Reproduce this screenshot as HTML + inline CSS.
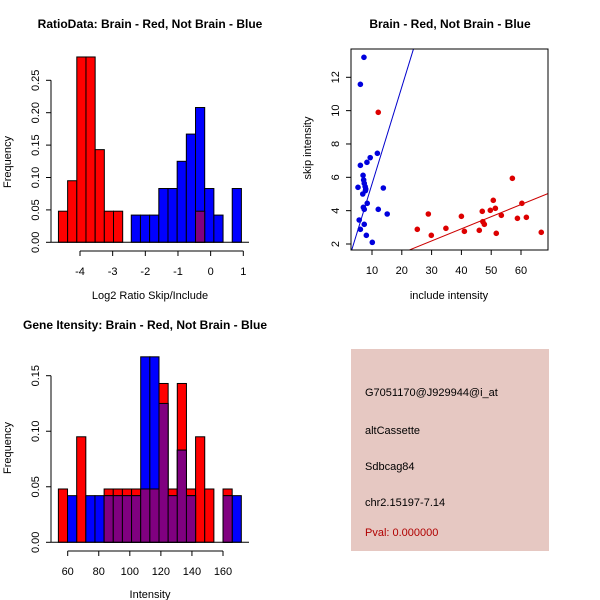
<!DOCTYPE html>
<html><head><meta charset="utf-8"><style>
body{margin:0;background:#fff}
svg{display:block;font-family:"Liberation Sans",sans-serif}
</style></head><body>
<svg id="c" width="600" height="600" xmlns="http://www.w3.org/2000/svg">
<rect width="600" height="600" fill="#fff"/>
<g id="p1"></g>
<g id="p2"></g>
<g id="p3"></g>
<g id="p4">
<rect x="351" y="349" width="198" height="202" fill="#e6c8c2"/>
<text x="365" y="396" font-size="11">G7051170@J929944@i_at</text>
<text x="365" y="434" font-size="11">altCassette</text>
<text x="365" y="470" font-size="11">Sdbcag84</text>
<text x="365" y="506" font-size="11">chr2.15197-7.14</text>
<text x="365" y="536" font-size="11" fill="#b00000">Pval: 0.000000</text>
</g>
</svg>
<script>
// Panel 1 data
const ratioRedStart = -4.66, ratioBlueStart = -2.43, ratioBin = 0.281;
const ratioRed = [0.048,0.095,0.286,0.286,0.143,0.048,0.048];
const ratioBlue = [0.042,0.042,0.042,0.083,0.083,0.125,0.167,0.208,0.083,0.042,0,0.083];
const ratioOverlap = [0,0,0,0,0,0,0,0.048,0,0,0,0];
const ratioXTicks = [-4,-3,-2,-1,0,1];
const ratioYTicks = [0,0.05,0.10,0.15,0.20,0.25];
// Panel 2 data
const blueX = [7.3,6.1,6.1,9.4,11.8,8.3,5.3,7.0,7.2,7.4,7.7,7.9,6.9,13.8,7.8,7.1,8.4,7.4,12.1,15.1,5.7,7.4,6.1,8.1,10.1];
const blueY = [13.2,11.58,6.72,7.18,7.44,6.9,5.4,6.12,5.84,5.64,5.44,5.3,5.0,5.36,5.2,4.2,4.44,4.08,4.08,3.8,3.44,3.18,2.88,2.52,2.1];
const redX = [12.1,25.2,28.9,29.9,34.8,40.0,41.0,46.0,47.0,47.2,47.7,49.7,50.7,51.4,51.7,53.4,57.1,58.8,60.3,61.8,66.8];
const redY = [9.9,2.88,3.8,2.52,2.94,3.66,2.76,2.82,3.96,3.34,3.18,4.02,4.62,4.14,2.64,3.72,5.94,3.54,4.44,3.6,2.7];
const blueFit = [-0.22,0.582]; // intercept, slope
const redFit = [0.0,0.0728];
const scatXTicks = [10,20,30,40,50,60];
const scatYTicks = [2,4,6,8,10,12];
// Panel 3 data
const geneStart = 54.0, geneBin = 5.89;
const geneRed = [0.048,0,0.095,0,0,0.048,0.048,0.048,0.048,0.048,0.048,0.143,0.048,0.143,0.048,0.095,0.048,0,0.048,0];
const geneBlue = [0,0.042,0,0.042,0.042,0.042,0.042,0.042,0.042,0.167,0.167,0.125,0.042,0.083,0.042,0,0,0,0.042,0.042];
const geneXTicks = [60,80,100,120,140,160];
const geneYTicks = [0,0.05,0.10,0.15];

const NS='http://www.w3.org/2000/svg';
function mk(parent,tag,attrs,name,text){
  const e=document.createElementNS(NS,tag);
  for(const k in attrs) e.setAttribute(k,attrs[k]);
  
  
  if(text!==undefined) e.textContent=text;
  parent.appendChild(e); return e;
}
function lin(d0,d1,p0,p1){return v=>p0+(v-d0)*(p1-p0)/(d1-d0);}
function yAxis(g,ticks,ys,x,fmt,line){
  if(line) mk(g,'line',{x1:x,x2:x,y1:ys(ticks[0]),y2:ys(ticks[ticks.length-1]),stroke:'#000'},'y-axis-line');
  ticks.forEach(t=>{
    mk(g,'line',{x1:x-5,x2:x,y1:ys(t),y2:ys(t),stroke:'#000'},'y-tick');
    mk(g,'text',{x:x-12,y:ys(t),'font-size':11,'text-anchor':'middle',transform:`rotate(-90 ${x-12} ${ys(t)})`},'y-tick-label',fmt(t));
  });
}
function xAxis(g,ticks,xs,y,line){
  if(line) mk(g,'line',{x1:xs(ticks[0]),x2:xs(ticks[ticks.length-1]),y1:y,y2:y,stroke:'#000'},'x-axis-line');
  ticks.forEach(t=>{
    mk(g,'line',{x1:xs(t),x2:xs(t),y1:y,y2:y+5,stroke:'#000'},'x-tick');
    mk(g,'text',{x:xs(t),y:y+24,'font-size':11,'text-anchor':'middle'},'x-tick-label',String(t));
  });
}
function bars(g,start,bin,vals,xs,ys,color,name){
  vals.forEach((v,i)=>{ if(v<=0) return;
    const x0=xs(start+i*bin),x1=xs(start+(i+1)*bin);
    mk(g,'rect',{x:x0,y:ys(v),width:x1-x0,height:ys(0)-ys(v),fill:color,stroke:'#000','stroke-width':1},name);
  });
}
// Panel 1
(function(){
  const g=document.getElementById('p1');
  const xs=lin(-4,1,80,243.3), ys=lin(0,0.25,242.3,80.3);
  mk(g,'text',{x:150,y:28,'font-size':12,'font-weight':'bold','text-anchor':'middle'},'chart-title','RatioData: Brain - Red, Not Brain - Blue');
  bars(g,ratioRedStart,ratioBin,ratioRed,xs,ys,'#ff0000','bar-red');
  bars(g,ratioBlueStart,ratioBin,ratioBlue,xs,ys,'#0000ff','bar-blue');
  bars(g,ratioBlueStart,ratioBin,ratioOverlap,xs,ys,'#800080','bar-overlap');
  mk(g,'line',{x1:51,x2:249,y1:ys(0),y2:ys(0),stroke:'#000'},'baseline');
  yAxis(g,ratioYTicks,ys,51,t=>t.toFixed(2),true);
  xAxis(g,ratioXTicks,xs,251,true);
  mk(g,'text',{x:150,y:299,'font-size':11,'text-anchor':'middle'},'x-axis-title','Log2 Ratio Skip/Include');
  mk(g,'text',{x:11,y:162,'font-size':11,'text-anchor':'middle',transform:'rotate(-90 11 162)'},'y-axis-title','Frequency');
})();
// Panel 2
(function(){
  const g=document.getElementById('p2');
  const xs=lin(10,60,372,521), ys=lin(2,12,244,77.3);
  mk(g,'text',{x:450,y:28,'font-size':12,'font-weight':'bold','text-anchor':'middle'},'chart-title','Brain - Red, Not Brain - Blue');
  mk(g,'defs',{},'clip-defs').innerHTML='<clipPath id="cl"><rect x="351" y="49" width="197" height="201"/></clipPath>';
  const cg=mk(g,'g',{'clip-path':'url(#cl)'},'plot-area');
  [[blueFit,'#0000cc','fit-line-blue'],[redFit,'#cc0000','fit-line-red']].forEach(([f,c,n])=>{
    mk(cg,'line',{x1:xs(0),y1:ys(f[0]),x2:xs(80),y2:ys(f[0]+f[1]*80),stroke:c},n);
  });
  blueX.forEach((x,i)=>mk(cg,'circle',{cx:xs(x),cy:ys(blueY[i]),r:2.8,fill:'#0000dd'},'point-blue'));
  redX.forEach((x,i)=>mk(cg,'circle',{cx:xs(x),cy:ys(redY[i]),r:2.8,fill:'#dd0000'},'point-red'));
  mk(g,'rect',{x:351,y:49,width:197,height:201,fill:'none',stroke:'#000'},'plot-box');
  yAxis(g,scatYTicks,ys,351,t=>String(t),false);
  xAxis(g,scatXTicks,xs,250,false);
  mk(g,'text',{x:449,y:299,'font-size':11,'text-anchor':'middle'},'x-axis-title','include intensity');
  mk(g,'text',{x:311,y:148,'font-size':11,'text-anchor':'middle',transform:'rotate(-90 311 148)'},'y-axis-title','skip intensity');
})();
// Panel 3
(function(){
  const g=document.getElementById('p3');
  const xs=lin(60,160,67.7,223), ys=lin(0,0.15,542.3,375.7);
  mk(g,'text',{x:145,y:329,'font-size':12,'font-weight':'bold','text-anchor':'middle'},'chart-title','Gene Itensity: Brain - Red, Not Brain - Blue');
  bars(g,geneStart,geneBin,geneRed,xs,ys,'#ff0000','bar-red');
  bars(g,geneStart,geneBin,geneBlue,xs,ys,'#0000ff','bar-blue');
  const ov=geneRed.map((r,i)=>Math.min(r,geneBlue[i]));
  bars(g,geneStart,geneBin,ov,xs,ys,'#800080','bar-overlap');
  mk(g,'line',{x1:51,x2:249,y1:ys(0),y2:ys(0),stroke:'#000'},'baseline');
  yAxis(g,geneYTicks,ys,51,t=>t.toFixed(2),true);
  xAxis(g,geneXTicks,xs,551,true);
  mk(g,'text',{x:150,y:598,'font-size':11,'text-anchor':'middle'},'x-axis-title','Intensity');
  mk(g,'text',{x:11,y:448,'font-size':11,'text-anchor':'middle',transform:'rotate(-90 11 448)'},'y-axis-title','Frequency');
})();
</script>
</body></html>
